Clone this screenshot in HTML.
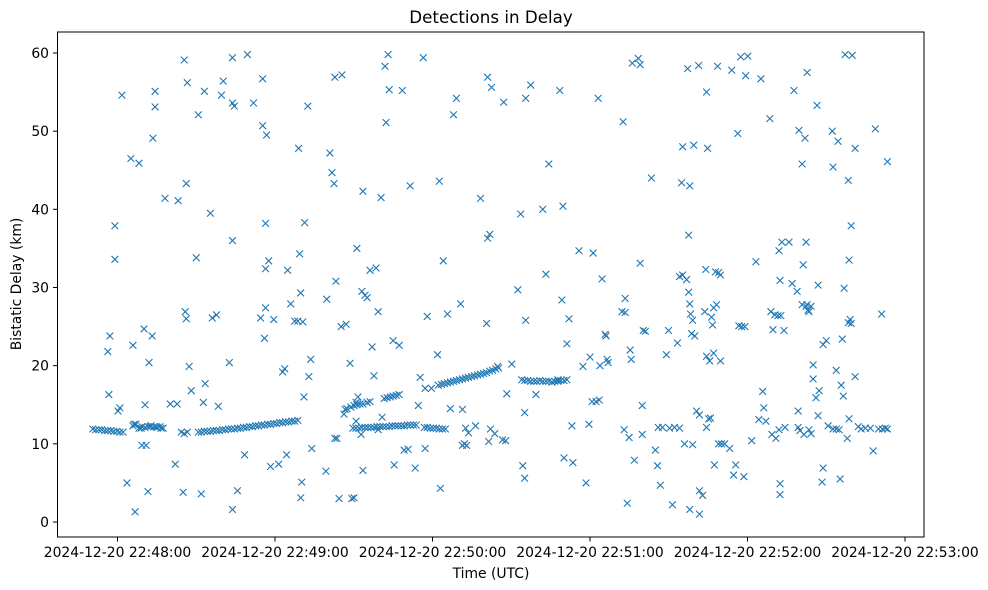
<!DOCTYPE html>
<html><head><meta charset="utf-8"><style>
html,body{margin:0;padding:0;background:#fff}
svg{display:block;font-family:"DejaVu Sans","Liberation Sans",sans-serif}
</style></head><body>
<svg id="chart" width="988" height="590" viewBox="0 0 988 590">
<rect x="0" y="0" width="988" height="590" fill="#fff"/>
<text x="491" y="23" text-anchor="middle" font-size="16.7" fill="#000">Detections in Delay</text>
<g id="marks"></g>
<rect x="57.5" y="32" width="866.5" height="505" fill="none" stroke="#000" stroke-width="1"/>
<g id="yaxis"></g>
<g id="xaxis"></g>
<text x="491" y="578" text-anchor="middle" font-size="13.9">Time (UTC)</text>
<text transform="translate(21,284) rotate(-90)" text-anchor="middle" font-size="13.9">Bistatic Delay (km)</text>
</svg>
<script>
// time values: seconds after data base time 22:48:01.3 (offset 61.3 s after 22:47:00)
const BASE_SECONDS = 61.3;
const yTicks = [0,10,20,30,40,50,60];
const xTickSeconds = [60,120,180,240,300,360];
const xTickLabels = ["2024-12-20 22:48:00","2024-12-20 22:49:00","2024-12-20 22:50:00","2024-12-20 22:51:00","2024-12-20 22:52:00","2024-12-20 22:53:00"];
const track1T = [-10.7,-9.6,-8.4,-7.3,-6.1,-5.0,-3.8,-2.7,-1.5,-0.4,0.8];
const track1V = [11.9,11.8,11.8,11.8,11.7,11.7,11.7,11.6,11.6,11.5,11.5];
const track2T = [29.5,30.6,31.8,32.9,34.1,35.2,36.4,37.5,38.7,39.8,41.0,42.1,43.3,44.4,45.5,46.7,47.8,49.0,50.1,51.3,52.4,53.6,54.7,55.9,57.0,58.2,59.3,60.5,61.6,62.8,63.9,65.1,66.2,67.4];
const track2V = [11.5,11.5,11.6,11.6,11.6,11.7,11.7,11.7,11.8,11.8,11.9,11.9,11.9,12.0,12.0,12.1,12.1,12.2,12.2,12.3,12.3,12.4,12.4,12.5,12.5,12.6,12.6,12.7,12.7,12.8,12.8,12.9,12.9,13.0];
const track3T = [88.4,89.5,90.7,91.8,93.0,94.1,95.3,96.4,97.6,98.7,99.9,101.0,102.2,103.3,104.5,105.6,106.8,107.9,109.1,110.2,111.4,112.5];
const track3V = [12.0,12.0,12.0,12.1,12.1,12.1,12.1,12.1,12.2,12.2,12.2,12.2,12.2,12.3,12.3,12.3,12.3,12.3,12.4,12.4,12.4,12.4];
const track4T = [115.6,116.7,117.9,119.0,120.2,121.3,122.5,123.6];
const track4V = [12.1,12.1,12.0,12.0,12.0,11.9,11.9,11.9];
const track5T = [120.9,122.1,123.2,124.4,125.5,126.7,127.8,129.0,130.1,131.3,132.4,133.6,134.7,135.9,137.0,138.2,139.3,140.5,141.6,142.8,143.9];
const track5V = [17.5,17.6,17.7,17.8,17.9,18.0,18.1,18.2,18.3,18.4,18.5,18.6,18.7,18.8,18.9,19.0,19.1,19.3,19.4,19.6,19.7];
const track6T = [152.7,153.8,155.0,156.1,157.3,158.4,159.6,160.7,161.9,163.0,164.2,165.3,166.5,167.6,168.8,169.9];
const track6V = [18.2,18.1,18.1,18.0,18.0,18.0,18.1,18.0,18.0,18.0,17.9,18.0,18.0,18.1,18.1,18.2];
const clusterT = [4.6,5.7,6.9,8.0,9.2,10.3,11.5,12.6,13.8,14.9,16.1,86.1,87.6,88.8,89.9,91.1,92.2,93.8,94.9,100.3,101.4,102.6,103.7,104.9,106.0,23.0,24.1];
const clusterV = [12.3,12.5,12.0,12.2,12.1,12.2,12.3,12.2,12.1,12.2,12.0,14.5,14.7,14.9,15.0,15.1,15.1,15.3,15.4,15.8,15.9,16.0,16.1,16.2,16.3,11.5,11.3];
const scatterPts = [[-5.0,21.8],[-4.2,23.8],[-4.6,16.3],[-2.3,37.9],[-2.3,33.6],[-1.1,14.2],[-0.4,14.6],[0.4,54.6],[2.3,5],[3.8,46.5],[4.6,22.6],[5.0,12.5],[5.4,1.3],[6.9,45.9],[7.7,12],[8.0,9.8],[8.8,24.7],[9.6,9.8],[9.2,15],[10.3,3.9],[10.7,20.4],[11.9,23.8],[12.2,49.1],[13.0,53.1],[13.0,55.1],[11.1,12.2],[13.4,12.2],[15.3,12],[16.8,41.4],[18.8,15.1],[20.7,7.4],[21.8,41.1],[21.4,15.1],[24.1,59.1],[23.7,3.8],[24.9,43.3],[25.3,56.2],[24.5,26.9],[24.9,26],[25.3,11.5],[26.0,19.9],[26.8,16.8],[28.7,33.8],[29.5,52.1],[30.6,3.6],[31.4,15.3],[31.8,55.1],[32.1,17.7],[34.1,39.5],[34.8,26.1],[36.4,26.5],[37.1,14.8],[38.3,54.6],[39.0,56.4],[41.3,20.4],[42.5,53.6],[43.2,53.2],[42.5,36],[42.5,1.6],[42.5,59.4],[44.4,4],[47.1,8.6],[48.2,59.8],[50.5,53.6],[53.2,26.1],[54.0,56.7],[54.0,50.7],[54.7,23.5],[55.1,27.4],[55.1,32.4],[55.1,38.2],[55.5,49.5],[56.3,33.4],[57.0,7.1],[58.2,25.9],[60.1,7.4],[61.6,19.2],[62.4,19.6],[63.1,8.6],[63.5,32.2],[64.7,27.9],[66.2,25.7],[67.4,25.7],[67.7,47.8],[68.1,34.3],[68.5,29.3],[68.9,5.1],[68.5,3.1],[69.3,25.6],[69.7,16],[70.0,38.3],[71.2,53.2],[71.6,18.6],[72.3,20.8],[72.7,9.4],[78.1,6.5],[78.4,28.5],[79.6,47.2],[80.4,44.7],[81.2,43.3],[81.5,10.7],[81.5,56.9],[82.3,10.7],[81.9,30.8],[83.1,3],[83.9,25],[84.2,57.2],[85.0,13.8],[85.4,14.4],[85.8,25.3],[87.3,20.3],[88.0,3],[88.8,3.1],[89.6,12.9],[89.9,35],[90.3,16],[89.6,15.3],[91.5,11.2],[92.2,6.6],[91.8,29.5],[92.2,42.3],[93.0,29],[93.8,28.7],[94.9,32.2],[95.7,22.4],[96.4,18.7],[97.2,32.5],[98.0,26.9],[98.0,11.8],[99.1,41.5],[99.5,13.4],[100.6,58.3],[101.0,51.1],[101.8,59.8],[102.2,55.3],[103.7,23.2],[104.1,7.3],[106.0,22.6],[107.2,55.2],[107.9,9.2],[109.4,9.3],[110.2,43],[112.1,6.9],[113.3,14.9],[114.0,18.5],[115.2,59.4],[115.9,9.4],[115.9,17.1],[116.7,26.3],[118.3,17.1],[120.6,21.4],[121.3,43.6],[121.7,4.3],[122.8,33.4],[124.4,26.6],[125.5,14.5],[126.7,52.1],[127.8,54.2],[129.4,27.9],[130.1,14.4],[130.1,9.8],[130.9,10],[131.3,12],[131.7,9.8],[132.4,11.4],[135.1,12.3],[137.0,41.4],[139.3,25.4],[139.7,56.9],[139.7,36.3],[140.5,36.8],[140.1,10.3],[140.8,11.9],[141.2,55.6],[142.4,11.3],[143.5,19.9],[145.4,10.5],[145.8,53.7],[146.6,10.4],[147.0,16.4],[148.9,20.2],[151.2,29.7],[152.3,39.4],[153.1,7.2],[153.8,14],[154.2,54.2],[154.2,25.8],[153.8,5.6],[156.1,55.9],[158.1,16.3],[160.7,40],[161.9,31.7],[163.0,45.8],[164.2,17.9],[166.5,18.2],[167.2,55.2],[168.0,28.4],[168.4,40.4],[168.8,8.2],[169.9,22.8],[170.7,26],[171.8,12.3],[172.2,7.6],[174.5,34.7],[176.0,19.9],[177.2,5],[178.3,12.5],[178.7,21.1],[179.9,34.4],[179.5,15.4],[181.0,15.4],[181.8,54.2],[182.2,15.6],[182.5,20],[183.3,31.1],[184.5,24],[184.8,23.8],[185.6,20.4],[185.2,20.8],[190.9,26.9],[191.3,51.2],[191.7,11.8],[192.1,26.8],[192.1,28.6],[192.9,2.4],[193.6,10.8],[194.0,22],[194.4,20.8],[194.8,58.7],[195.6,7.9],[197.1,59.3],[197.8,58.5],[197.8,33.1],[198.6,14.9],[199.0,24.5],[199.8,24.4],[198.6,11.2],[202.1,44],[203.6,9.2],[204.4,7.2],[204.7,12.1],[205.5,4.7],[206.3,12.1],[207.8,21.4],[208.6,24.5],[209.0,12],[210.1,2.2],[210.9,12.1],[212.0,22.9],[212.8,12],[213.6,43.4],[212.8,31.4],[214.0,31.6],[214.0,48],[214.7,10],[215.5,31],[215.9,58],[216.3,29.4],[216.3,36.7],[216.7,27.9],[216.7,43],[216.7,1.6],[217.0,26.6],[217.4,24.1],[217.8,25.8],[218.2,48.2],[217.8,9.9],[218.6,23.8],[219.3,14.2],[220.1,58.4],[220.4,1],[220.4,13.7],[220.4,4],[221.6,3.4],[222.4,26.9],[222.8,32.3],[223.1,21.2],[223.1,12.1],[223.1,55],[223.5,47.8],[223.9,13.2],[224.3,20.6],[224.6,13.3],[225.0,26.2],[225.4,25.2],[225.8,27.4],[225.8,21.6],[226.1,7.3],[226.5,32],[226.9,27.8],[227.3,58.3],[227.7,31.9],[228.4,20.6],[228.4,31.6],[227.7,10],[228.8,10],[230.0,10],[231.9,9.4],[232.7,57.8],[233.4,6],[234.2,7.3],[235.0,49.7],[235.4,25.1],[236.1,59.5],[236.5,25],[237.3,5.8],[237.7,25],[238.0,57.1],[238.8,59.6],[240.3,10.4],[241.9,33.3],[243.0,13.1],[243.8,56.7],[244.5,16.7],[244.9,14.6],[245.7,12.9],[247.2,51.6],[247.6,26.9],[248.0,11.2],[248.4,24.6],[249.1,26.5],[249.5,10.7],[250.3,26.4],[250.7,11.8],[251.1,4.9],[251.1,3.5],[251.1,30.9],[250.7,34.7],[251.4,26.4],[251.8,35.8],[252.6,24.5],[253.0,12.1],[254.5,35.8],[255.7,30.5],[256.4,55.2],[257.6,29.5],[258.0,12.1],[258.0,14.2],[258.3,50.1],[258.7,11.7],[259.5,45.8],[259.5,27.8],[259.9,32.9],[260.2,11.2],[260.6,49.1],[261.0,35.8],[261.0,27.6],[261.4,57.5],[261.4,27.8],[261.8,27.1],[262.1,11.8],[262.1,26.9],[262.9,11.3],[262.9,27.6],[263.7,20.1],[263.7,18.3],[264.8,15.9],[265.2,53.3],[265.6,30.3],[265.6,13.6],[266.0,16.8],[267.1,5.1],[267.5,6.9],[267.5,22.7],[268.7,23.2],[269.4,12.3],[271.0,50],[271.3,11.9],[271.3,45.4],[272.5,19.4],[272.5,11.9],[273.2,48.7],[273.6,11.8],[274.0,5.5],[274.4,17.5],[274.8,23.4],[275.2,16.1],[275.5,29.9],[275.9,59.8],[276.7,10.7],[277.1,25.5],[277.1,43.7],[277.4,33.5],[277.4,13.2],[277.8,25.9],[278.2,25.4],[278.2,37.9],[278.6,59.7],[279.7,18.6],[279.7,47.8],[280.9,12.2],[282.0,11.9],[283.6,12],[285.5,12],[286.6,9.1],[287.4,50.3],[288.6,11.9],[289.8,26.6],[290.1,11.9],[291.2,12],[292.0,46.1],[292.0,11.9]];

const NS = "http://www.w3.org/2000/svg";
const X0 = 117.5 - 60*2.625, XK = 2.625;
function xScale(s){ return X0 + s*XK; }
function xData(t){ return xScale(t + BASE_SECONDS); }
function yScale(v){ return 522 - v*7.817; }

const marks = document.getElementById('marks');
function addX(t, v){
  const cx = xData(t), cy = yScale(v), r = 3.4;
  const p = document.createElementNS(NS,'path');
  p.setAttribute('d', `M${cx-r},${cy-r}L${cx+r},${cy+r}M${cx-r},${cy+r}L${cx+r},${cy-r}`);
  p.setAttribute('stroke','#1f77b4');
  p.setAttribute('stroke-width','1.1');
  p.setAttribute('fill','none');
  
  
  marks.appendChild(p);
}
[[track1T,track1V],[track2T,track2V],[track3T,track3V],[track4T,track4V],[track5T,track5V],[track6T,track6V],[clusterT,clusterV]].forEach(([ts,vs])=>{
  ts.forEach((t,i)=>addX(t, vs[i]));
});
scatterPts.forEach(p=>addX(p[0], p[1]));

const ya = document.getElementById('yaxis');
yTicks.forEach(v=>{
  const y = yScale(v);
  const l = document.createElementNS(NS,'line');
  l.setAttribute('x1',53); l.setAttribute('x2',57.5); l.setAttribute('y1',y); l.setAttribute('y2',y);
  l.setAttribute('stroke','#000');
  
  
  ya.appendChild(l);
  const tx = document.createElementNS(NS,'text');
  tx.setAttribute('x',49); tx.setAttribute('y',y+5);
  tx.setAttribute('text-anchor','end'); tx.setAttribute('font-size','13.9');
  tx.textContent = v;
  
  
  ya.appendChild(tx);
});
const xa = document.getElementById('xaxis');
xTickSeconds.forEach((s,i)=>{
  const x = xScale(s);
  const l = document.createElementNS(NS,'line');
  l.setAttribute('x1',x); l.setAttribute('x2',x); l.setAttribute('y1',537); l.setAttribute('y2',541.5);
  l.setAttribute('stroke','#000');
  
  
  xa.appendChild(l);
  const tx = document.createElementNS(NS,'text');
  tx.setAttribute('x',x); tx.setAttribute('y',557);
  tx.setAttribute('text-anchor','middle'); tx.setAttribute('font-size','13.9');
  tx.textContent = xTickLabels[i];
  
  
  xa.appendChild(tx);
});
</script>
</body></html>
